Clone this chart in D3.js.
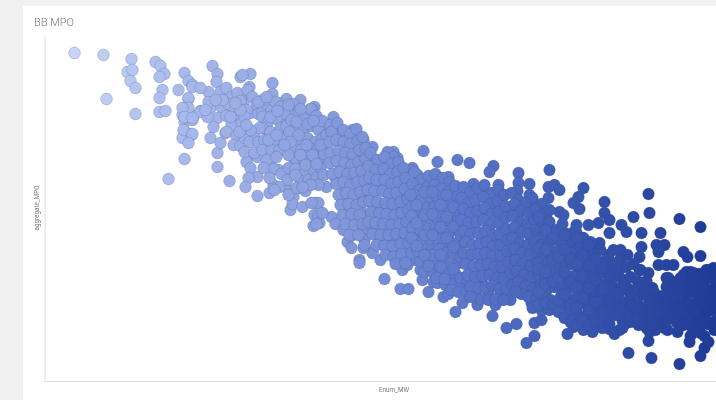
<!DOCTYPE html>
<html>
<head>
<meta charset="utf-8">
<script src="https://cdn.jsdelivr.net/npm/d3@7"></script>
<style>
html, body { margin: 0; padding: 0; background: #f1f1f1; overflow: hidden; }
text { font-family: Roboto, "Liberation Sans", sans-serif; }
</style>
</head>
<body>
<script>
// readings as [Enum_MW, aggregate_MPO]
var outerLeft = [[74,347],[103,345],[131,341],[127,328],[132,330],[130,319],[135,312],[106,301],[135,286],
 [155,338],[160,334],[164,326],[159,323],[162,310],[159,302],[159,288],[165,289],
 [184,327],[188,319],[192,315],[178,310],[188,301],[184,288],[182,285],[184,278],[186,282],[200,289],[193,284],[184,269],[188,266],[192,280],[182,262],[191,265],[184,241],[168,221],
 [217,233],[229,219],[217,247],[212,334],[217,326],[216,318],[208,308],[220,308],[200,288],[210,292],[221,293],[217,282],[213,273],[210,262],[220,257],[225,267],[231,302],[235,291],[240,323],[208,298],[207,283],[192,313],[200,312],[188,302],[188,292],[182,292],[184,283],[192,282],[183,270],[192,266],[188,257]];

var outerMiddle = [[250,326],[242,325],[249,313],[272,317],[272,306],[286,301],[300,300],[314,293],[333,283],[260,295],[278,297],[290,285],[303,285],[312,290],[250,287],[263,287],[280,285],[245,303],[243,297],
 [267,270],[285,277],[302,275],[320,270],[327,275],[340,270],[352,270],[363,260],[372,253],[393,248],[423,249],[437,238],[457,240],[469,237],[473,216],[448,223],[412,232],[397,242],
 [247,260],[250,245],[257,243],[246,238],[250,232],[257,223],[248,222],[245,213],[257,204],[269,207],[273,215],[285,213],[278,230],[270,237],[267,257],[283,250],[293,242],[300,233],[290,225],[298,212],[293,203],[290,190],[292,196],[302,193],[315,197],[318,197],[314,185],[318,184],[313,174],[319,177],[331,183],[335,176],[343,170],[352,165],[347,158],[351,152],[363,170],[364,160],[372,148],[359,140],
 [359,137],[384,121],[400,111],[408,111],[380,140],[372,147],[363,152],[390,157],[403,145],[415,140],[402,130],[407,135],[398,137],[422,120],[428,108],[443,103],[433,118],[455,88],[462,97],[477,95],[450,112],[467,107],[420,130]];

var outerRight = [[493,234],[489,228],[518,227],[518,217],[549,230],[529,216],[498,215],[529,205],[548,213],[554,215],[559,210],[583,212],[578,203],[573,197],[579,191],[548,202],[541,195],[559,188],[563,185],[546,182],[604,198],[604,187],[609,180],[598,177],[588,175],[576,175],[633,183],[648,206],[649,187],[679,181],[700,173],[621,175],[609,167],[626,168],[641,167],[660,167],[641,153],[639,143],[656,155],[664,155],[658,148],[620,150],[599,157],[593,152],[608,145],[567,165],[576,167],[582,162],[552,169],[683,148],[687,143],[700,144],[673,135],[666,135],[658,135],[686,128],[693,127],[709,130],[703,127],[714,127],[666,122],[646,119],[639,130],[693,118],[703,117],[666,113],[654,107],
 [492,84],[506,72],[516,76],[534,64],[526,57],[534,77],[541,80],[567,66],[573,73],[583,70],[592,68],[598,77],[609,71],[614,66],[619,70],[626,77],[628,47],[648,59],[649,68],[651,42],[679,36],[677,68],[689,58],[700,44],[704,52],[708,58],[700,67],[713,73],[683,79],[659,75],[646,77]];

var innerLeft = [[226,312],[231,303],[228,296],[237,307],[233,288],[226,284],[240,299],[238,284],[231,275],[241,277],[226,268],[236,264],[233,255],[243,268],[240,254],
 [247,310],[252,303],[256,296],[246,290],[258,286],[244,283],[262,288],[244,262],[254,267],[249,258],[258,258],[244,248],[254,247],
 [266,296],[271,290],[262,283],[275,298],[268,279],[280,293],[284,286],[276,281],[262,272],[270,268],[280,272],[286,274],[264,260],[275,259],[284,262],[262,250],[271,250],[279,250],[266,240],[273,231],[281,226],[269,222],[263,232],[288,232],[287,220],[279,213],[288,205],[274,210],
 [293,296],[298,288],[291,280],[304,281],[310,291],[316,284],[295,271],[303,270],[311,274],[318,270],[322,279],[292,262],[300,260],[307,262],[315,258],[322,262],[293,251],[301,250],[309,252],[316,248],[322,252],[296,241],[304,240],[311,238],[319,240],[325,243],[295,231],[305,228],[313,230],[320,232],[300,219],[308,220],[316,222],[323,225],[296,212],[305,209],[311,197],[322,187],[316,176],[326,213]];

var innerMiddle = [[331,268],[337,277],[343,270],[350,266],[356,271],[329,258],[336,260],[343,258],[350,256],[357,259],[362,263],[330,247],[338,249],[345,247],[352,246],[359,250],[365,252],[329,237],[336,239],[344,237],[351,235],[358,238],[365,241],[332,226],[339,228],[347,226],[354,227],[361,229],[336,216],[343,218],[350,215],[357,218],[364,219],[338,205],[346,207],[353,205],[360,208],[340,195],[348,196],[356,195],[363,198],[342,185],[351,186],[359,185],[345,176],[354,175],[362,176],[349,165],[358,165],[364,155],
 [370,247],[377,240],[384,243],[391,236],[398,238],[368,234],[375,230],[383,231],[390,226],[397,228],[403,232],[369,222],[376,220],[384,220],[391,216],[398,218],[405,222],[367,210],[374,209],[382,209],[389,206],[396,207],[404,211],[369,199],[377,198],[385,197],[392,196],[400,198],[407,201],[371,188],[379,187],[386,186],[394,185],[401,187],[408,190],[368,178],[375,177],[383,176],[391,175],[399,176],[406,178],[372,166],[380,165],[388,165],[396,166],[404,167],[412,169],[376,155],[384,154],[392,154],[400,156],[408,157],[385,145],[393,143],[401,146],[411,147],[395,136],[405,137],
 [414,228],[421,220],[428,224],[435,226],[442,222],[449,218],[412,216],[419,210],[427,213],[434,215],[441,211],[448,208],[455,214],[414,205],[421,200],[429,203],[436,204],[443,200],[450,198],[457,203],[412,194],[419,190],[427,192],[434,193],[441,189],[449,188],[456,192],[414,183],[421,180],[429,182],[436,183],[443,178],[450,178],[458,181],[412,172],[420,170],[428,171],[435,172],[442,168],[449,167],[457,170],[415,160],[422,160],[430,160],[437,161],[444,158],[451,157],[459,159],[417,149],[425,150],[432,150],[439,151],[446,147],[453,147],[461,149],[420,138],[428,139],[435,139],[443,139],[450,136],[458,137],[424,128],[432,128],[440,128],[447,126],[455,126],[437,117],[445,115],[452,116],[460,117],[448,106]];

var innerRight = [[463,213],[470,208],[477,212],[484,215],[491,207],[498,210],[461,202],[468,197],[475,200],[483,203],[490,196],[497,199],[504,205],[463,191],[470,187],[477,189],[484,192],[491,186],[498,188],[505,194],[461,180],[468,177],[476,178],[483,180],[490,175],[498,177],[505,182],[463,169],[470,166],[478,167],[485,169],[492,165],[499,166],[506,171],[465,158],[472,155],[479,156],[486,158],[493,154],[500,155],[507,160],[463,147],[471,145],[478,146],[485,147],[492,144],[500,144],[507,149],[465,136],[473,134],[480,135],[487,136],[494,133],[501,133],[508,138],[467,125],[475,123],[482,124],[489,125],[496,122],[503,122],[510,127],[470,113],[478,112],[485,113],[492,114],[499,111],[506,111],[480,101],[488,100],[495,101],[503,100],[470,103],[512,115],
 [511,207],[518,200],[525,197],[532,202],[541,196],[514,196],[520,189],[528,187],[535,191],[543,186],[549,190],[512,184],[520,178],[527,176],[534,180],[542,175],[549,178],[514,173],[521,168],[528,166],[536,169],[543,165],[550,168],[512,162],[519,157],[527,155],[534,158],[541,155],[549,157],[514,151],[521,147],[529,145],[536,148],[543,144],[550,146],[515,140],[522,136],[530,134],[537,137],[544,133],[551,135],[516,129],[523,125],[531,123],[538,126],[545,122],[552,124],[518,118],[525,114],[533,112],[540,115],[547,111],[554,113],[521,106],[528,103],[536,101],[543,103],[550,100],[515,108],[532,92],[541,90],[549,90],
 [556,170],[562,176],[567,166],[575,170],[583,162],[590,158],[558,160],[565,155],[572,158],[579,152],[586,150],[593,146],[600,150],[557,149],[564,144],[571,147],[578,141],[585,140],[592,135],[599,138],[606,140],[558,138],[565,133],[572,136],[579,130],[586,129],[593,125],[600,127],[607,129],[559,127],[566,122],[573,124],[580,119],[587,118],[594,114],[601,116],[608,118],[560,116],[567,111],[574,113],[581,108],[588,107],[595,103],[602,105],[609,107],[561,105],[568,100],[575,102],[582,97],[589,96],[596,92],[603,94],[610,96],[563,94],[570,89],[578,85],[586,84],[594,82],[602,80],[612,85],
 [613,150],[620,141],[627,145],[612,137],[619,130],[626,133],[633,136],[640,130],[648,127],[616,124],[623,120],[630,123],[637,119],[645,116],[652,112],[613,113],[620,109],[627,112],[634,108],[641,105],[648,103],[655,100],[662,104],[616,102],[623,98],[630,100],[637,96],[644,93],[651,91],[658,90],[665,93],[618,91],[625,87],[632,89],[639,85],[646,82],[653,80],[660,80],[667,83],[622,79],[630,78],[638,75],[646,72],[655,70],[664,72],[672,90],
 [668,122],[675,118],[683,125],[690,128],[698,126],[706,130],[713,132],[670,110],[677,107],[684,114],[691,118],[698,116],[705,120],[712,122],[672,100],[679,96],[686,104],[693,108],[700,106],[707,110],[714,112],[674,88],[681,85],[688,93],[695,97],[702,95],[709,100],[716,102],[676,78],[683,75],[690,82],[697,86],[704,84],[711,90],[716,80],[692,72],[699,74],[707,76],[714,70],[690,64],[667,70],[704,64]];

// second pass over the crowded part of the cloud
var crowdedLeft = [[262,300],[270,283],[277,289],[288,295],[296,278],[307,276],[313,279],[300,291],[289,268],[298,265],[306,255],[312,245],[300,245],[290,258],[288,245],[268,260],[259,272],[250,270],[240,290],[235,297],[230,283],[222,300],[215,300],[205,290],[239,268],[246,275],[258,298],[266,303],[276,265],[284,255],[276,243],[295,225],[305,235],[316,236],[324,246],[318,215],[310,215],[302,213],[320,255],[326,265],[330,275],[335,265],[340,253],[347,262],[354,263],[360,256],[333,243],[340,233],[347,242],[355,243],[362,234],[369,239],[335,222],[342,212],[350,222],[358,212],[342,200],[350,202],[357,200],[345,190],[353,180],[360,190],[365,182],[368,204],[372,215],[380,215],[380,225],[372,242],[380,235],[387,248],[393,243],[387,213],[394,212],[400,204],[406,215],[402,225],[410,230],[417,225],[373,193],[381,193],[388,192],[396,191],[404,194],[373,172],[381,171],[389,170],[397,171],[405,172],[376,182],[384,181],[392,180],[400,181],[380,160],[388,160],[396,160],[404,160],[388,149],[397,150],[405,150],[400,141]];

var crowdedMiddle = [[411,162],[411,184],[410,205],[416,195],[416,177],[416,154],[424,165],[424,185],[424,208],[432,208],[432,186],[432,165],[432,145],[424,145],[440,195],[440,173],[440,145],[440,133],[446,183],[446,162],[446,205],[453,193],[453,173],[453,153],[453,131],[460,186],[460,165],[460,143],[460,122],[428,134],[436,122],[444,121],[451,110],[458,108],[466,108],[467,205],[467,185],[467,163],[467,141],[467,119],[474,195],[474,172],[474,150],[474,129],[474,107],[481,208],[481,186],[481,162],[481,141],[481,118],[488,200],[488,172],[488,150],[488,129],[488,106],[495,193],[495,161],[495,139],[495,117],[495,95],[502,204],[502,183],[502,172],[502,150],[502,128],[502,106],[510,190],[510,167],[510,144],[510,121],[510,100],[517,209],[517,184],[517,162],[517,135],[517,112],[524,192],[524,172],[524,150],[524,130],[524,108],[531,198],[531,161],[531,140],[531,118],[531,97]];

var crowdedRight = [[538,183],[538,152],[538,131],[538,108],[538,95],[545,170],[545,150],[545,128],[545,116],[545,97],[552,162],[552,140],[552,118],[552,95],[558,143],[558,122],[558,100],[558,88],[564,165],[564,150],[564,128],[564,105],[564,82],[570,141],[570,118],[570,95],[570,78],[576,162],[576,136],[576,113],[576,92],[576,75],[582,145],[582,124],[582,102],[582,80],[588,155],[588,134],[588,112],[588,90],[588,75],[595,141],[595,120],[595,98],[595,76],[602,132],[602,110],[602,87],[602,72],[609,124],[609,101],[609,88],[609,76],[615,130],[615,107],[615,85],[622,114],[622,93],[622,72],[630,106],[630,94],[630,84],[637,112],[637,90],[637,80],[644,110],[644,87],[644,76],[651,97],[651,85],[651,75],[658,95],[658,85],[665,100],[665,78],[672,105],[672,82],[678,112],[678,90],[685,98],[685,80],[692,112],[692,88],[699,100],[699,80],[706,104],[706,88],[713,106],[713,95],[713,78],[700,112],[680,122]];

var colorStops = [74, 180, 300, 400, 500, 600, 716];
var colorRange = ["#c8d4f6", "#a9baec", "#8ea2e0", "#7089d4", "#516dc3", "#3351ab", "#1f3a96"];

var points = outerLeft.concat(outerMiddle, outerRight, innerLeft, crowdedLeft, innerMiddle, crowdedMiddle, innerRight, crowdedRight);

var width = 716;
var height = 400;

var svg = d3.select("body").append("svg")
    .attr("width", width)
    .attr("height", height)
    .style("display", "block")
    .style("filter", "blur(0.35px)"); //the reference is a soft screenshot

svg.append("rect") //white card behind the chart
    .attr("x", 23)
    .attr("y", 6)
    .attr("width", width - 23)
    .attr("height", height - 6)
    .attr("fill", "#ffffff");

var x = d3.scaleLinear().domain([44, 716]).range([44.5, 716.5]);
var y = d3.scaleLinear().domain([19, 364]).range([381, 36]);
var color = d3.scaleLinear().domain(colorStops).range(colorRange).clamp(true);

svg.append("g") //axes have no ticks in this chart, only the lines
    .attr("transform", "translate(0,381)")
    .call(d3.axisBottom(x).tickValues([]).tickSizeOuter(0))
    .select("path").attr("stroke", "#dcdcdc");

svg.append("g")
    .attr("transform", "translate(44.5,0)")
    .call(d3.axisLeft(y).tickValues([]).tickSizeOuter(0))
    .select("path").attr("stroke", "#dcdcdc");

svg.append("g").selectAll("circle")
    .data(points)
    .enter().append("circle")
    .attr("cx", function(d) { return x(d[0]); })
    .attr("cy", function(d) { return y(d[1]); })
    .attr("r", 5.9)
    .attr("fill", function(d) { return color(d[0]); })
    .attr("stroke", "#33477f")
    .attr("stroke-opacity", 0.22)
    .attr("stroke-width", 1);

svg.append("text")
    .attr("x", 34)
    .attr("y", 26)
    .attr("font-size", "11px")
    .attr("font-weight", 300)
    .attr("fill", "#777777")
    .text("BB MPO");

svg.append("text")
    .attr("text-anchor", "middle")
    .attr("x", 394)
    .attr("y", 392)
    .attr("font-size", "6.3px")
    .attr("fill", "#777777")
    .text("Enum_MW");

svg.append("text")
    .attr("text-anchor", "middle")
    .attr("transform", "translate(39,208) rotate(-90)")
    .attr("font-size", "6.3px")
    .attr("fill", "#777777")
    .text("aggregate_MPO");
</script>
</body>
</html>
